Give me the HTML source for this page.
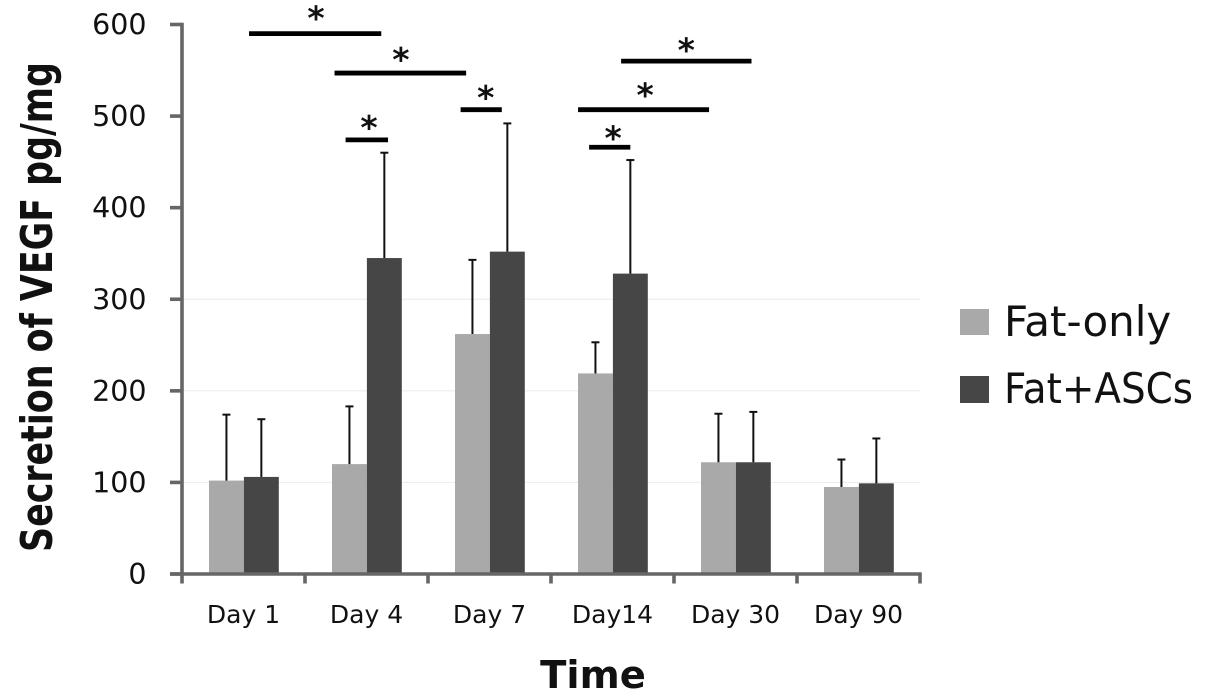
<!DOCTYPE html>
<html lang="en">
<head>
<meta charset="utf-8">
<title>Secretion of VEGF</title>
<style>
html,body{margin:0;padding:0;background:#fff;width:1205px;height:696px;overflow:hidden}
svg{display:block}
text{font-family:"DejaVu Sans","Liberation Sans",sans-serif;fill:#111}
</style>
</head>
<body>
<svg id="chart" xmlns="http://www.w3.org/2000/svg" width="1205" height="696" viewBox="0 0 1205 696">
  <g id="grid"></g>
  <g id="bars"></g>
  <g id="errors"></g>
  <g id="axes"></g>
  <g id="sig"></g>
  <text transform="translate(52,552) rotate(-90)" font-size="44" font-weight="bold" textLength="490" lengthAdjust="spacingAndGlyphs">Secretion of VEGF pg/mg</text>
  <text x="593" y="688" text-anchor="middle" font-size="38.5" font-weight="bold">Time</text>
  <g>
    <rect x="960" y="309" width="29" height="26" fill="#a9a9a9"/>
    <text x="1004" y="336" font-size="42">Fat-only</text>
    <rect x="960" y="376" width="29" height="27" fill="#464646"/>
    <text x="1004" y="403" font-size="42" textLength="189" lengthAdjust="spacingAndGlyphs">Fat+ASCs</text>
  </g>
</svg>
<script>
var categories = ['Day 1', 'Day 4', 'Day 7', 'Day14', 'Day 30', 'Day 90'];
var fatOnly = [102, 120, 262, 219, 122, 95];
var fatAscs = [106, 345, 352, 328, 122, 99];
var fatOnlyErrorTop = [174, 183, 343, 253, 175, 125];
var fatAscsErrorTop = [169, 460, 492, 452, 177, 148];
var yTicks = [0, 100, 200, 300, 400, 500, 600];
var gridValues = [100, 200, 300];
/* significance brackets: start and end in category units, height in pg/mg */
var sigStart = [0.545, 1.24, 1.33, 2.265, 3.31, 3.22, 3.57];
var sigEnd = [1.62, 2.31, 1.675, 2.6, 3.645, 4.285, 4.63];
var sigLevel = [590, 547, 474, 507, 466, 507, 560];
/* asterisk centres, same units */
var starCat = [1.09, 1.78, 1.52, 2.47, 3.505, 3.765, 4.1];
var starLevel = [610, 564.5, 490, 523, 479, 526, 575];

var NS = 'http://www.w3.org/2000/svg';
var X0 = 182, CAT = 123, Y0 = 574, PXU = 549.5 / 600, BARW = 34.9;
function xScale(c) { return X0 + c * CAT; }
function yScale(v) { return Y0 - v * PXU; }
function make(parent, tag, attrs) {
  var el = document.createElementNS(NS, tag);
  for (var k in attrs) el.setAttribute(k, attrs[k]);
  parent.appendChild(el);
  return el;
}
var gridG = document.getElementById('grid');
var barsG = document.getElementById('bars');
var errG = document.getElementById('errors');
var axesG = document.getElementById('axes');
var sigG = document.getElementById('sig');

gridValues.forEach(function (v) {
  var el = make(gridG, 'line', {x1: X0, x2: xScale(categories.length), y1: yScale(v), y2: yScale(v), stroke: '#eeeeee', 'stroke-width': 1.2});
  
  
});

function drawSeries(values, tops, offset, color, label) {
  values.forEach(function (v, i) {
    var left = xScale(i + 0.5) + offset;
    var bar = make(barsG, 'rect', {x: left, y: yScale(v), width: BARW, height: Y0 - yScale(v), fill: color});
    
    
    var cx = left + BARW / 2;
    var stem = make(errG, 'line', {x1: cx, x2: cx, y1: yScale(v), y2: yScale(tops[i]), stroke: '#111', 'stroke-width': 2});
    
    
    var cap = make(errG, 'line', {x1: cx - 4, x2: cx + 4, y1: yScale(tops[i]), y2: yScale(tops[i]), stroke: '#111', 'stroke-width': 2});
    
    
  });
}
drawSeries(fatOnly, fatOnlyErrorTop, -BARW + 0.4, '#a9a9a9', 'fat-only');
drawSeries(fatAscs, fatAscsErrorTop, 0.4, '#464646', 'fat-ascs');

var yAxis = make(axesG, 'line', {x1: X0, x2: X0, y1: yScale(600) - 1.7, y2: 583.5, stroke: '#666', 'stroke-width': 3.6});


var xAxis = make(axesG, 'line', {x1: 170, x2: xScale(categories.length) + 1.7, y1: Y0, y2: Y0, stroke: '#666', 'stroke-width': 3.6});



yTicks.forEach(function (v) {
  var t = make(axesG, 'line', {x1: 170, x2: X0, y1: yScale(v), y2: yScale(v), stroke: '#666', 'stroke-width': 3.6});
  
  
  var lab = make(axesG, 'text', {x: 146.5, y: yScale(v) + 10, 'text-anchor': 'end', 'font-size': 28.5});
  
  
  lab.textContent = v;
});
categories.forEach(function (c, i) {
  var t = make(axesG, 'line', {x1: xScale(i + 1), x2: xScale(i + 1), y1: Y0, y2: 583.5, stroke: '#666', 'stroke-width': 3.6});
  
  
  var lab = make(axesG, 'text', {x: xScale(i + 0.5), y: 623, 'text-anchor': 'middle', 'font-size': 25});
  
  
  lab.textContent = c;
});
sigLevel.forEach(function (v, i) {
  var x1 = xScale(sigStart[i]), x2 = xScale(sigEnd[i]), y = yScale(v);
  var line = make(sigG, 'line', {x1: x1, x2: x2, y1: y, y2: y, stroke: '#000', 'stroke-width': 4.8});
  
  
});
starLevel.forEach(function (v, i) {
  var star = make(sigG, 'text', {x: xScale(starCat[i]), y: yScale(v) + 14, 'text-anchor': 'middle', 'font-size': 33, 'font-weight': 'bold'});
  
  
  star.textContent = '*';
});
</script>
</body>
</html>
